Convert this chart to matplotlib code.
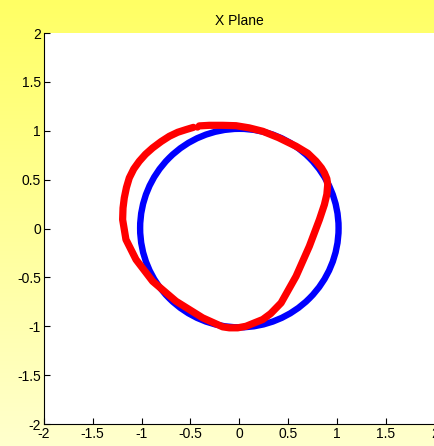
import numpy as np
import matplotlib
matplotlib.use("Agg")
import matplotlib.pyplot as plt
from matplotlib.patches import Circle

plt.rcParams['font.family'] = ['Liberation Sans', 'DejaVu Sans']

# reference circle (blue)
circle_center = (0.0, 0.005)
circle_radius = 1.015

# measured curve (red), traced clockwise from the small gap at top left
red_x = [-0.41, -0.307, -0.17, -0.034, 0.10, 0.239, 0.40, 0.58, 0.70, 0.785,
         0.84, 0.87, 0.895, 0.904, 0.895, 0.87, 0.819, 0.716, 0.58, 0.427,
         0.32, 0.239, 0.068, -0.017, -0.102, -0.171, -0.375, -0.648, -0.887,
         -1.057, -1.16, -1.194, -1.19, -1.177, -1.155, -1.126, -1.08, -1.024,
         -0.96, -0.887, -0.80, -0.716, -0.63, -0.546, -0.47]
red_y = [1.05, 1.056, 1.056, 1.052, 1.03, 0.995, 0.93, 0.842, 0.77, 0.688,
         0.62, 0.57, 0.51, 0.45, 0.35, 0.245, 0.092, -0.181, -0.488, -0.76,
         -0.87, -0.93, -0.999, -1.015, -1.015, -1.005, -0.913, -0.743, -0.539,
         -0.317, -0.112, 0.092, 0.21, 0.314, 0.42, 0.518, 0.61, 0.688,
         0.76, 0.825, 0.89, 0.944, 0.985, 1.012, 1.035]
gap_dot = (-0.437, 1.042)

ticks = [-2, -1.5, -1, -0.5, 0, 0.5, 1, 1.5, 2]
tick_labels = ['-2', '-1.5', '-1', '-0.5', '0', '0.5', '1', '1.5', '2']

fig = plt.figure(figsize=(4.34, 4.46), dpi=100)

# yellow gradient background
bg = fig.add_axes([0, 0, 1, 1], zorder=-10)
grad = np.linspace(0, 1, 256).reshape(-1, 1)
top = np.array([255, 255, 100]) / 255
bottom = np.array([255, 255, 205]) / 255
img = top + grad[..., None] * (bottom - top)
img = np.repeat(img, 2, axis=1)
bg.imshow(img, aspect='auto', extent=[0, 1, 0, 1])
bg.axis('off')

ax = fig.add_axes([0.101, 0.049, 0.901, 0.877])
ax.set_facecolor('white')

ax.add_patch(Circle(circle_center, circle_radius, fill=False, edgecolor='#0000ff', linewidth=4.6))
ax.plot(red_x, red_y, color='#ff0000', linewidth=5.2, solid_joinstyle='round', solid_capstyle='round')
ax.plot([gap_dot[0]], [gap_dot[1]], 'o', color='#ff0000', markersize=3.5)

ax.set_xlim(-2, 2)
ax.set_ylim(-2, 2)
ax.set_xticks(ticks)
ax.set_xticklabels(tick_labels)
ax.set_yticks(ticks)
ax.set_yticklabels(tick_labels)
ax.tick_params(direction='in', length=4, labelsize=10, pad=2, colors='black')
ax.spines['top'].set_visible(False)
ax.spines['right'].set_visible(False)
ax.set_title('X Plane', fontsize=10, pad=6)

fig.savefig('out.png', dpi=100)
